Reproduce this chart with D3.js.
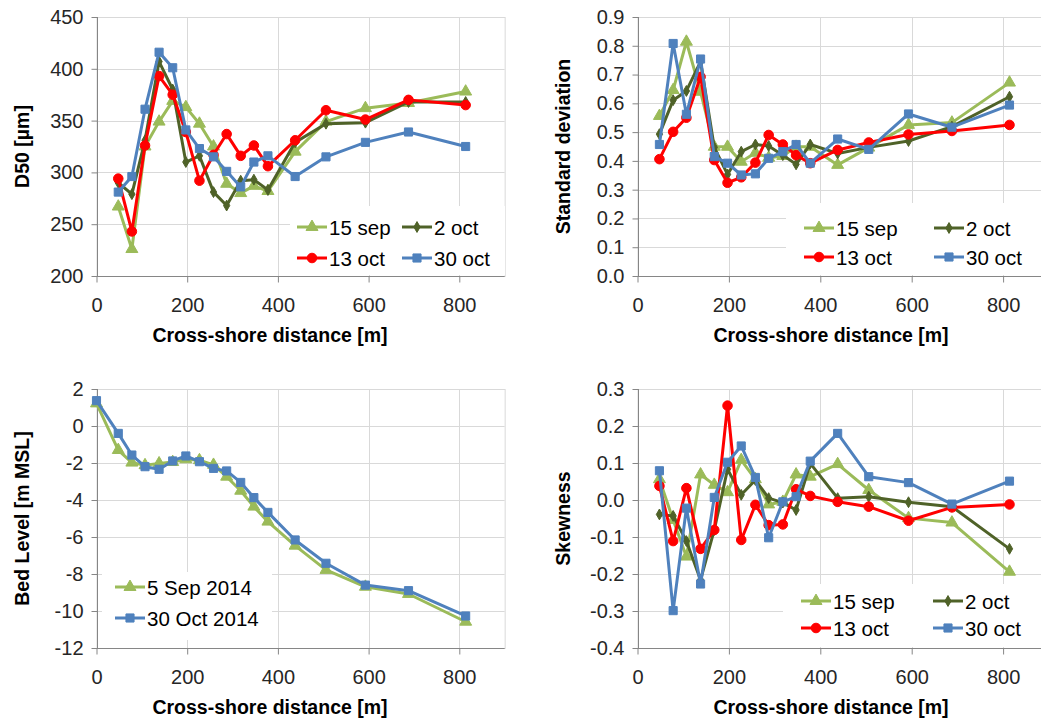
<!DOCTYPE html>
<html>
<head>
<meta charset="utf-8">
<script src="https://cdn.jsdelivr.net/npm/d3@7"></script>
<style>
  html, body { margin: 0; padding: 0; background: #fff; }
  svg { display: block; font-family: "Liberation Sans", Arial, sans-serif; }
</style>
</head>
<body>
<svg id="chart" width="1041" height="720"></svg>
<script>
// Cross-shore positions of the sampling stations [m]
const distance = [48, 78, 107, 138, 168, 197, 227, 258, 287, 318, 347, 378, 438, 506, 593, 688, 814];
// Bed profile also includes the landward start point
const bedDistance = [0, 48, 78, 107, 138, 168, 197, 227, 258, 287, 318, 347, 378, 438, 506, 593, 688, 814];

const xTicks = [0, 200, 400, 600, 800];

// Sampling campaigns
const campaigns = ["15 sep", "2 oct", "13 oct", "30 oct"];

// Median grain size D50 [µm]
const d50Sep15 = [267, 226, 325, 349, 369, 363, 347, 325, 289, 280, 287, 282, 320, 349, 362, 367, 378];
const d50Oct2  = [290, 279, 331, 407, 380, 310, 316, 281, 268, 292, 293, 283, 329, 347, 348, 368, 368];
const d50Oct13 = [294, 243, 326, 393, 375, 339, 292, 317, 337, 316, 326, 306, 331, 360, 351, 370, 365];
const d50Oct30 = [281, 296, 361, 416, 401, 341, 323, 315, 301, 286, 310, 316, 296, 315, 329, 339, 325];
const d50Ticks = [200, 250, 300, 350, 400, 450];

// Sorting (standard deviation)
const sdSep15 = [0.556, 0.646, 0.814, 0.640, 0.449, 0.449, 0.397, 0.428, 0.411, 0.417, 0.449, 0.449, 0.386, 0.446, 0.525, 0.533, 0.672];
const sdOct2  = [0.493, 0.611, 0.643, 0.745, 0.447, 0.353, 0.432, 0.457, 0.452, 0.420, 0.388, 0.457, 0.426, 0.447, 0.469, 0.519, 0.623];
const sdOct13 = [0.406, 0.501, 0.550, 0.692, 0.403, 0.324, 0.343, 0.394, 0.490, 0.457, 0.420, 0.392, 0.438, 0.464, 0.492, 0.504, 0.525];
const sdOct30 = [0.457, 0.808, 0.562, 0.754, 0.415, 0.392, 0.351, 0.355, 0.409, 0.432, 0.457, 0.392, 0.476, 0.440, 0.563, 0.517, 0.594];
const sdTicks = [0.0, 0.1, 0.2, 0.3, 0.4, 0.5, 0.6, 0.7, 0.8, 0.9];

// Bed level [m MSL]
const bedSurveys = ["5 Sep 2014", "30 Oct 2014"];
const bedSep5  = [1.22, -1.30, -1.98, -2.12, -2.02, -1.95, -1.80, -1.85, -2.10, -2.74, -3.50, -4.36, -5.17, -6.47, -7.78, -8.69, -9.08, -10.58];
const bedOct30 = [1.37, -0.40, -1.57, -2.20, -2.34, -1.89, -1.62, -1.93, -2.29, -2.43, -3.05, -3.87, -4.67, -6.16, -7.42, -8.60, -8.90, -10.27];
const bedTicks = [-12, -10, -8, -6, -4, -2, 0, 2];

// Skewness
const skSep15 = [0.056, -0.054, -0.153, 0.069, 0.041, 0.021, 0.108, 0.056, -0.012, -0.005, 0.069, 0.063, 0.097, 0.027, -0.049, -0.061, -0.194];
const skOct2  = [-0.039, -0.043, -0.111, -0.216, -0.081, 0.083, 0.014, 0.054, 0.005, -0.007, -0.027, 0.099, 0.005, 0.009, -0.006, -0.018, -0.132];
const skOct13 = [0.038, -0.111, 0.032, -0.132, -0.081, 0.255, -0.108, -0.013, -0.068, -0.066, 0.029, 0.011, -0.005, -0.018, -0.056, -0.020, -0.012];
const skOct30 = [0.079, -0.299, -0.022, -0.227, 0.007, 0.102, 0.146, 0.061, -0.102, -0.005, 0.009, 0.105, 0.180, 0.063, 0.047, -0.011, 0.051];
const skTicks = [-0.4, -0.3, -0.2, -0.1, 0.0, 0.1, 0.2, 0.3];

// Series styles
const STYLE = {
  lightGreen: { color: "#9BBB59", symbol: d3.symbolTriangle, size: 62 },
  darkGreen:  { color: "#4F6228", symbol: d3.symbolDiamond,  size: 34 },
  red:        { color: "#FF0000", symbol: d3.symbolCircle,   size: 72 },
  blue:       { color: "#4F81BD", symbol: d3.symbolSquare,   size: 66 }
};

const svg = d3.select("#chart");
const GRID = "#D9D9D9", AXIS = "#868686", TEXT = "#262626";

// number formats with a plain hyphen for negatives
const hyphen = f => d => f(d).replace("\u2212", "-");

function drawPanel(cfg) {
  const x = d3.scaleLinear().domain([0, 900]).range([cfg.left, cfg.left + cfg.pxPerM * 900]);
  const y = d3.scaleLinear().domain([cfg.yTicks[0], cfg.yTicks[cfg.yTicks.length - 1]]).range([cfg.bottom, cfg.top]);
  const g = svg.append("g");
  const right = x(900);

  // gridlines
  g.selectAll(".hg").data(cfg.yTicks.slice(1)).join("line")
    .attr("x1", cfg.left).attr("x2", right)
    .attr("y1", d => Math.round(y(d)) + 0.5).attr("y2", d => Math.round(y(d)) + 0.5)
    .attr("stroke", GRID).attr("stroke-width", 1);
  g.selectAll(".vg").data(xTicks.slice(1)).join("line")
    .attr("x1", d => Math.round(x(d)) + 0.5).attr("x2", d => Math.round(x(d)) + 0.5)
    .attr("y1", cfg.top).attr("y2", cfg.bottom)
    .attr("stroke", GRID).attr("stroke-width", 1);
  // plot area frame
  g.append("rect").attr("x", cfg.left + 0.5).attr("y", cfg.top + 0.5)
    .attr("width", right - cfg.left).attr("height", cfg.bottom - cfg.top)
    .attr("fill", "none").attr("stroke", GRID);

  // axes
  const yAxis = d3.axisLeft(y).tickValues(cfg.yTicks).tickSize(6).tickPadding(8)
    .tickFormat(hyphen(cfg.fmt));
  const ya = g.append("g").attr("transform", `translate(${Math.round(cfg.left) + 0.5},0)`).call(yAxis);
  const xAxis = d3.axisBottom(x).tickValues(xTicks).tickSize(6).tickPadding(15).tickFormat(d3.format("d"));
  const xa = g.append("g").attr("transform", `translate(0,${Math.round(cfg.bottom) + 0.5})`).call(xAxis);
  [ya, xa].forEach(a => {
    a.select(".domain").attr("stroke", AXIS).attr("stroke-width", 1);
    a.selectAll(".tick line").attr("stroke", AXIS);
    a.selectAll(".tick text").attr("fill", TEXT).style("font-size", "20px")
      .style("font-family", "'Liberation Sans', Arial, sans-serif");
  });
  // remove the outer-tick overhang on the domain paths
  ya.select(".domain").attr("d", `M0,${y.range()[0]}V${y.range()[1]}`);
  xa.select(".domain").attr("d", `M${cfg.left},0H${right}`);

  // axis titles
  g.append("text")
    .attr("x", cfg.xTitleX).attr("y", cfg.bottom + 66)
    .attr("text-anchor", "middle").attr("font-weight", "bold").attr("font-size", "19.5px")
    .attr("fill", "#000").text("Cross-shore distance [m]");
  g.append("text")
    .attr("transform", `translate(${cfg.left - 75},${(cfg.top + cfg.bottom) / 2}) rotate(-90)`)
    .attr("text-anchor", "middle").attr("dominant-baseline", "central")
    .attr("font-weight", "bold").attr("font-size", "19.5px").attr("fill", "#000")
    .text(cfg.yTitle);

  // series
  const line = d3.line().x(d => x(d[0])).y(d => y(d[1]));
  cfg.series.forEach(s => {
    const pts = s.xs.map((xv, i) => [xv, s.values[i]]);
    const sg = g.append("g");
    sg.append("path").datum(pts).attr("d", line)
      .attr("fill", "none").attr("stroke", s.style.color).attr("stroke-width", 3)
      .attr("stroke-linejoin", "round");
    const sym = d3.symbol().type(s.style.symbol).size(s.style.size);
    sg.selectAll("path.m").data(pts).join("path").attr("class", "m")
      .attr("d", sym).attr("transform", d => `translate(${x(d[0])},${y(d[1])})`)
      .attr("fill", s.style.color).attr("stroke", s.style.color).attr("stroke-width", 1);
  });

  // legend
  const L = cfg.legend;
  const lg = g.append("g");
  lg.append("rect").attr("x", L.box[0]).attr("y", L.box[1]).attr("width", L.box[2]).attr("height", L.box[3])
    .attr("fill", "#fff");
  L.items.forEach(it => {
    const s = cfg.series[it.idx];
    lg.append("line").attr("x1", it.x).attr("x2", it.x + 30).attr("y1", it.y).attr("y2", it.y)
      .attr("stroke", s.style.color).attr("stroke-width", 3);
    lg.append("path").attr("d", d3.symbol().type(s.style.symbol).size(s.style.size)())
      .attr("transform", `translate(${it.x + 15},${it.y})`)
      .attr("fill", s.style.color).attr("stroke", s.style.color);
    lg.append("text").attr("x", it.x + 32).attr("y", it.y).attr("dominant-baseline", "central")
      .attr("font-size", "20.5px").attr("fill", "#000").text(s.name);
  });
}

const fourSeries = (a, b, c, d) => [
  { name: campaigns[0], xs: distance, values: a, style: STYLE.lightGreen },
  { name: campaigns[1], xs: distance, values: b, style: STYLE.darkGreen },
  { name: campaigns[2], xs: distance, values: c, style: STYLE.red },
  { name: campaigns[3], xs: distance, values: d, style: STYLE.blue }
];

// D50
drawPanel({
  left: 96.5, top: 17, bottom: 276, pxPerM: 0.4535, xTitleX: 270,
  yTicks: d50Ticks, fmt: d3.format("d"), yTitle: "D50 [µm]",
  series: fourSeries(d50Sep15, d50Oct2, d50Oct13, d50Oct30),
  legend: { box: [290, 206, 215, 69], items: [
    { idx: 0, x: 297, y: 227 }, { idx: 1, x: 402, y: 227 },
    { idx: 2, x: 297, y: 258 }, { idx: 3, x: 402, y: 258 } ] }
});

// Standard deviation
drawPanel({
  left: 637.5, top: 17, bottom: 276, pxPerM: 0.457, xTitleX: 831,
  yTicks: sdTicks, fmt: d3.format(".1f"), yTitle: "Standard deviation",
  series: fourSeries(sdSep15, sdOct2, sdOct13, sdOct30),
  legend: { box: [786, 203, 260, 72], items: [
    { idx: 0, x: 804, y: 228 }, { idx: 1, x: 934, y: 228 },
    { idx: 2, x: 804, y: 257 }, { idx: 3, x: 934, y: 257 } ] }
});

// Bed level
drawPanel({
  left: 96.5, top: 389, bottom: 648, pxPerM: 0.4535, xTitleX: 270,
  yTicks: bedTicks, fmt: d3.format("d"), yTitle: "Bed Level [m MSL]",
  series: [
    { name: bedSurveys[0], xs: bedDistance, values: bedSep5, style: STYLE.lightGreen },
    { name: bedSurveys[1], xs: bedDistance, values: bedOct30, style: STYLE.blue }
  ],
  legend: { box: [102, 572, 170, 68], items: [
    { idx: 0, x: 115, y: 587 }, { idx: 1, x: 115, y: 618 } ] }
});

// Skewness
drawPanel({
  left: 637.5, top: 389, bottom: 648, pxPerM: 0.457, xTitleX: 831,
  yTicks: skTicks, fmt: d3.format(".1f"), yTitle: "Skewness",
  series: fourSeries(skSep15, skOct2, skOct13, skOct30),
  legend: { box: [783, 584, 260, 63], items: [
    { idx: 0, x: 801, y: 601 }, { idx: 1, x: 933, y: 601 },
    { idx: 2, x: 801, y: 628 }, { idx: 3, x: 933, y: 628 } ] }
});
</script>
</body>
</html>
